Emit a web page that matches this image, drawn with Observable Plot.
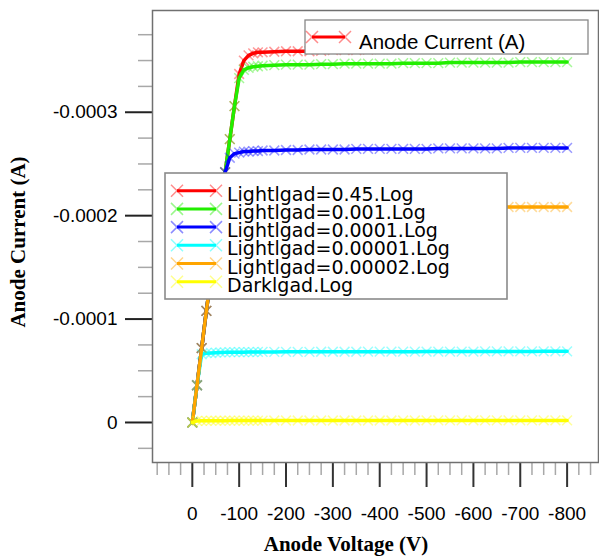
<!DOCTYPE html>
<html><head><meta charset="utf-8">
<script src="https://cdn.jsdelivr.net/npm/d3@7"></script>
<script src="https://cdn.jsdelivr.net/npm/@observablehq/plot@0.6"></script>
<style>
body{margin:0;background:#fff}
#chart{width:599px;height:556px}
</style></head><body><div id="chart"></div>
<script>
// Anode voltage (V) grid shared by every series
const voltage = [0,-10,-20,-30,-40,-50,-60,-70,-80,-90,-100,-110,-120,-130,-140,-150,
  -175,-200,-225,-250,-275,-300,-325,-350,-375,-400,-425,-450,-475,-500,-525,-550,-575,-600,
  -625,-650,-675,-700,-725,-750,-775,-800];

// Anode current (A) for each log file
const light045 = [0,-0.36e-4,-0.72e-4,-1.08e-4,-1.42e-4,-1.76e-4,-2.09e-4,-2.42e-4,-2.74e-4,-3.06e-4,-3.37e-4,-3.50e-4,-3.55e-4,-3.57e-4,-3.58e-4,-3.58e-4,
  -3.585e-4,-3.59e-4,-3.59e-4,-3.59e-4,-3.595e-4,-3.60e-4,-3.60e-4,-3.60e-4,-3.605e-4,-3.61e-4,-3.61e-4,-3.61e-4,-3.615e-4,-3.62e-4,-3.62e-4,-3.62e-4,-3.62e-4,-3.625e-4,-3.625e-4,-3.63e-4,-3.63e-4,-3.63e-4,-3.635e-4,-3.635e-4,-3.64e-4,-3.64e-4];
const light0001 = [0,-0.36e-4,-0.72e-4,-1.08e-4,-1.42e-4,-1.76e-4,-2.09e-4,-2.42e-4,-2.74e-4,-3.06e-4,-3.33e-4,-3.41e-4,-3.43e-4,-3.44e-4,-3.445e-4,-3.45e-4,
  -3.455e-4,-3.46e-4,-3.46e-4,-3.46e-4,-3.465e-4,-3.465e-4,-3.47e-4,-3.47e-4,-3.47e-4,-3.47e-4,-3.47e-4,-3.475e-4,-3.475e-4,-3.475e-4,-3.475e-4,-3.48e-4,-3.48e-4,-3.48e-4,-3.48e-4,-3.48e-4,-3.48e-4,-3.485e-4,-3.485e-4,-3.485e-4,-3.485e-4,-3.485e-4];
const light00001 = [0,-0.36e-4,-0.72e-4,-1.08e-4,-1.42e-4,-1.76e-4,-2.09e-4,-2.42e-4,-2.56e-4,-2.60e-4,-2.61e-4,-2.62e-4,-2.62e-4,-2.625e-4,-2.625e-4,-2.63e-4,
  -2.63e-4,-2.635e-4,-2.635e-4,-2.64e-4,-2.64e-4,-2.64e-4,-2.64e-4,-2.645e-4,-2.645e-4,-2.645e-4,-2.645e-4,-2.645e-4,-2.645e-4,-2.645e-4,-2.65e-4,-2.65e-4,-2.65e-4,-2.65e-4,-2.65e-4,-2.65e-4,-2.655e-4,-2.655e-4,-2.655e-4,-2.655e-4,-2.655e-4,-2.655e-4];
const light000001 = [0,-0.36e-4,-0.66e-4,-0.67e-4,-0.672e-4,-0.675e-4,-0.677e-4,-0.678e-4,-0.68e-4,-0.68e-4,-0.68e-4,-0.68e-4,-0.681e-4,-0.681e-4,-0.682e-4,-0.682e-4,
  -0.682e-4,-0.683e-4,-0.683e-4,-0.683e-4,-0.684e-4,-0.684e-4,-0.684e-4,-0.684e-4,-0.685e-4,-0.685e-4,-0.685e-4,-0.685e-4,-0.685e-4,-0.686e-4,-0.686e-4,-0.686e-4,-0.686e-4,-0.686e-4,-0.687e-4,-0.687e-4,-0.687e-4,-0.687e-4,-0.687e-4,-0.688e-4,-0.688e-4,-0.688e-4];
const light000002 = [0,-0.36e-4,-0.72e-4,-1.08e-4,-1.42e-4,-1.76e-4,-2.03e-4,-2.06e-4,-2.07e-4,-2.07e-4,-2.075e-4,-2.075e-4,-2.075e-4,-2.075e-4,-2.075e-4,-2.078e-4,
  -2.078e-4,-2.078e-4,-2.08e-4,-2.08e-4,-2.08e-4,-2.08e-4,-2.08e-4,-2.08e-4,-2.082e-4,-2.082e-4,-2.082e-4,-2.082e-4,-2.082e-4,-2.082e-4,-2.083e-4,-2.083e-4,-2.083e-4,-2.083e-4,-2.083e-4,-2.083e-4,-2.084e-4,-2.084e-4,-2.084e-4,-2.084e-4,-2.084e-4,-2.084e-4];
const dark = [0,-1.5e-6,-1.6e-6,-1.6e-6,-1.7e-6,-1.7e-6,-1.7e-6,-1.7e-6,-1.8e-6,-1.8e-6,-1.8e-6,-1.8e-6,-1.8e-6,-1.8e-6,-1.8e-6,-1.8e-6,
  -1.9e-6,-1.9e-6,-1.9e-6,-1.9e-6,-1.9e-6,-1.9e-6,-1.9e-6,-1.9e-6,-1.9e-6,-1.9e-6,-1.9e-6,-1.9e-6,-1.9e-6,-2.0e-6,-2.0e-6,-2.0e-6,-2.0e-6,-2.0e-6,-2.0e-6,-2.0e-6,-2.0e-6,-2.0e-6,-2.0e-6,-2.0e-6,-2.0e-6,-2.0e-6];

const seriesNames = ["Lightlgad=0.45.Log","Lightlgad=0.001.Log","Lightlgad=0.0001.Log","Lightlgad=0.00001.Log","Lightlgad=0.00002.Log","Darklgad.Log"];
const seriesColors = ["#ff0000","#22ee00","#0000ff","#00ffff","#ffa500","#ffff00"];
const seriesValues = [light045, light0001, light00001, light000001, light000002, dark];

const yMajorTicks = [0,-0.0001,-0.0002,-0.0003];
const yMinorTicks = [0.000025,-0.000025,-0.00005,-0.000075,-0.000125,-0.00015,-0.000175,-0.000225,-0.00025,-0.000275,-0.000325,-0.00035,-0.000375];
const xMajorTicks = [0,-100,-200,-300,-400,-500,-600,-700,-800];
const xMinorTicks = [75,50,25,-25,-50,-75,-125,-150,-175,-225,-250,-275,-325,-350,-375,-425,-450,-475,-525,-550,-575,-625,-650,-675,-725,-750,-775,-825,-850];
const xTitle = "Anode Voltage (V)";
const yTitle = "Anode Current (A)";
const topLegendLabel = "Anode Current (A)";

const rows = seriesNames.map((name, k) => voltage.map((v, i) => ({series: name, V: v, I: seriesValues[k][i]})));

const seriesMarks = [];
rows.forEach((r, k) => {
  seriesMarks.push(Plot.dot(r, {x: "V", y: "I", symbol: "times", r: 4.5, stroke: seriesColors[k], strokeOpacity: 0.4, strokeWidth: 1.5}));
  seriesMarks.push(Plot.line(r, {x: "V", y: "I", stroke: seriesColors[k], strokeWidth: 3.5}));
});

const chart = Plot.plot({
  width: 599, height: 556,
  marginLeft: 152, marginRight: 1, marginTop: 10, marginBottom: 94,
  style: {fontFamily: "'Liberation Sans', Arial, sans-serif", color: "#000", background: "#fff"},
  x: {domain: [85, -867]},
  y: {domain: [0.0000387, -0.0003984]},
  marks: [
    Plot.axisX(xMinorTicks, {tickSize: 13, stroke: "#a8a8a8", strokeWidth: 1.5, tickFormat: () => "", label: null}),
    Plot.axisX(xMajorTicks, {tickSize: 25, tickPadding: 19, stroke: "#333", strokeWidth: 2, fontSize: 19, tickFormat: d => String(d), label: null}),
    Plot.axisY(yMinorTicks, {tickSize: 14, stroke: "#a8a8a8", strokeWidth: 1.5, tickFormat: () => "", label: null}),
    Plot.axisY(yMajorTicks, {tickSize: 27, tickPadding: 8, stroke: "#222", strokeWidth: 2, fontSize: 19, tickFormat: d => d === 0 ? "0" : d.toFixed(4), label: null}),
    ...seriesMarks,
    Plot.frame({stroke: "#707070", strokeWidth: 1.5})
  ]
});
document.getElementById("chart").appendChild(chart);

// Legends and axis titles
const svg = d3.select(chart);
function xMark(g, cx, cy, s, color) {
  g.append("path").attr("d", `M${cx-s},${cy-s}L${cx+s},${cy+s}M${cx-s},${cy+s}L${cx+s},${cy-s}`)
    .attr("stroke", color).attr("stroke-opacity", 0.45).attr("stroke-width", 1.5).attr("fill", "none");
}
// top legend
const lg1 = svg.append("g");
lg1.append("rect").attr("x", 305).attr("y", 20).attr("width", 283).attr("height", 34)
  .attr("fill", "#fff").attr("stroke", "#888").attr("stroke-width", 1.3);
lg1.append("line").attr("x1", 312).attr("x2", 345).attr("y1", 37).attr("y2", 37).attr("stroke", seriesColors[0]).attr("stroke-width", 3);
xMark(lg1, 312, 37, 6, seriesColors[0]);
xMark(lg1, 345, 37, 6, seriesColors[0]);
lg1.append("text").attr("x", 359).attr("y", 49).attr("font-size", 20.5).attr("text-anchor", "start")
  .attr("font-family", "'Liberation Sans', Arial, sans-serif").attr("fill", "#000").text(topLegendLabel);

// series legend
const lg2 = svg.append("g");
lg2.append("rect").attr("x", 165).attr("y", 173).attr("width", 342).attr("height", 126)
  .attr("fill", "#fff").attr("stroke", "#8a8a8a").attr("stroke-width", 1.6);
seriesNames.forEach((name, i) => {
  const base = 200.7 + 18.2 * i;
  const ly = base - 10;
  lg2.append("line").attr("x1", 177).attr("x2", 216).attr("y1", ly).attr("y2", ly).attr("stroke", seriesColors[i]).attr("stroke-width", 3);
  xMark(lg2, 177, ly, 6, seriesColors[i]);
  xMark(lg2, 216, ly, 6, seriesColors[i]);
  lg2.append("text").attr("x", 227).attr("y", base).attr("font-size", 19).attr("text-anchor", "start")
    .attr("font-family", "'DejaVu Sans', sans-serif").attr("fill", "#000").text(name);
});

// axis titles
svg.append("text").attr("x", 346).attr("y", 551).attr("text-anchor", "middle")
  .attr("font-family", "'Liberation Serif', 'Times New Roman', serif").attr("font-weight", "bold").attr("font-size", 21)
  .attr("fill", "#000").text(xTitle);
svg.append("text").attr("transform", "translate(25,242) rotate(-90)").attr("text-anchor", "middle")
  .attr("font-family", "'Liberation Serif', 'Times New Roman', serif").attr("font-weight", "bold").attr("font-size", 21)
  .attr("fill", "#000").text(yTitle);
</script>
</body></html>
